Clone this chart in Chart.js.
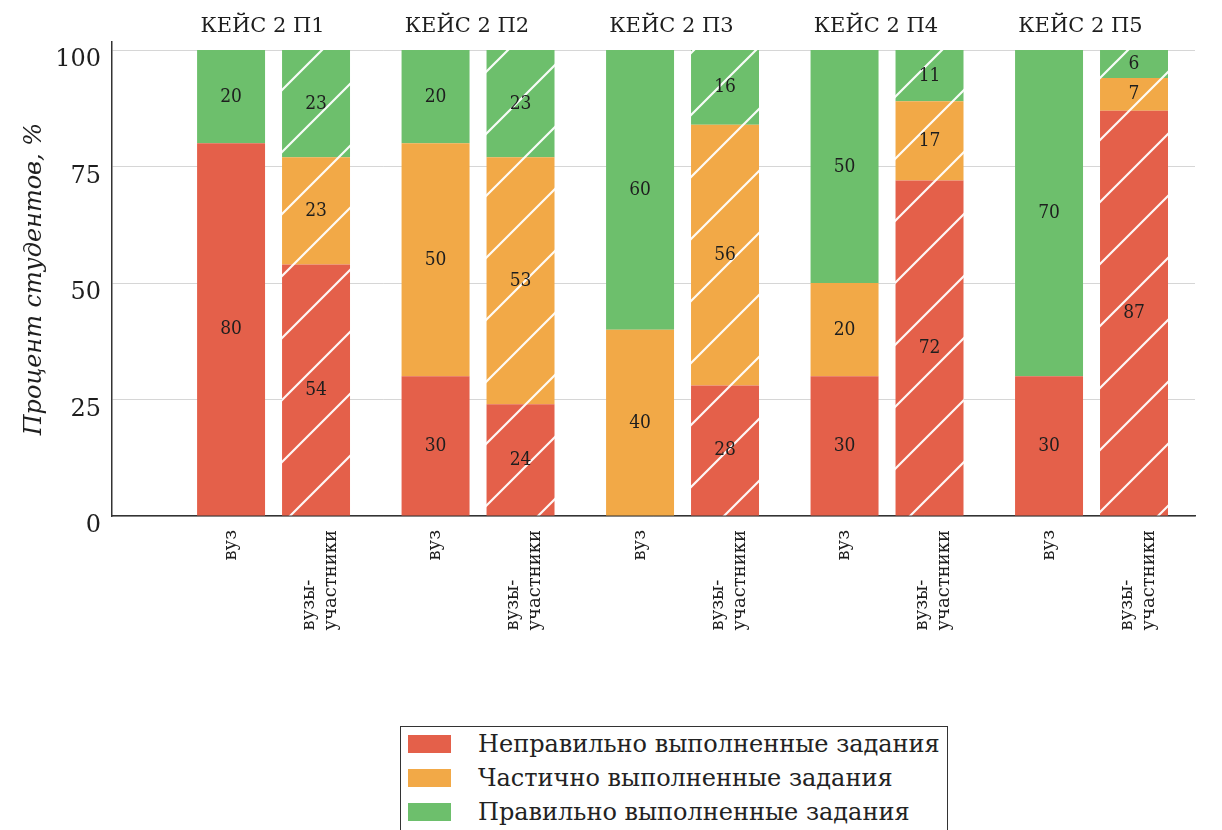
<!DOCTYPE html>
<html><head><meta charset="utf-8">
<script src="https://cdn.jsdelivr.net/npm/chart.js@4/dist/chart.umd.min.js"></script>
<style>
html,body{margin:0;padding:0;background:#fff;overflow:hidden;width:1222px;height:830px}
#wrap{position:relative;width:1222px;height:830px}
#legend{position:absolute;left:400px;top:726px;width:546px;border:1.5px solid #333;background:#fff;padding:0 0 20px 0;font-family:"DejaVu Serif";font-size:24px;color:#222}
.item{display:flex;align-items:center;height:34px}
.sw{width:43px;height:18px;margin:0 27px 0 7px;flex:none}
</style></head><body>
<div id="wrap"><canvas id="c" width="1222" height="830"></canvas><div id="legend"></div></div>
<script>
const groups = ['КЕЙС 2 П1','КЕЙС 2 П2','КЕЙС 2 П3','КЕЙС 2 П4','КЕЙС 2 П5'];
const stackNames = ['вуз','вузы-участники'];
const stackLabels = [['вуз'], ['вузы-','участники']];
const seriesNames = ['Неправильно выполненные задания','Частично выполненные задания','Правильно выполненные задания'];
const vuzWrong   = [80,30, 0,30,30];
const vuzPartial = [ 0,50,40,20, 0];
const vuzCorrect = [20,20,60,50,70];
const partWrong   = [54,24,28,72,87];
const partPartial = [23,53,56,17, 7];
const partCorrect = [23,23,16,11, 6];
const yTickStep = 25;

const colors = ['#E4604A','#F2A947','#6DBF6C'];

function hatch(color){
  const T = 62;
  const c = document.createElement('canvas');
  c.width = T; c.height = T;
  const g = c.getContext('2d');
  g.fillStyle = color; g.fillRect(0,0,T,T);
  g.strokeStyle = 'rgba(255,255,255,0.95)';
  g.lineWidth = 2.2;
  g.beginPath();
  g.moveTo(-T/2, T/2); g.lineTo(T/2, -T/2);
  g.moveTo(0, T); g.lineTo(T, 0);
  g.moveTo(T/2, T*1.5); g.lineTo(T*1.5, T/2);
  g.stroke();
  return g.createPattern(c, 'repeat');
}

const vuzSeries = [vuzWrong, vuzPartial, vuzCorrect];
const partSeries = [partWrong, partPartial, partCorrect];
const datasets = [];
vuzSeries.forEach((d,i)=>datasets.push({label:seriesNames[i], data:d, stack:stackNames[0], backgroundColor:colors[i], borderWidth:0}));
partSeries.forEach((d,i)=>datasets.push({label:seriesNames[i], data:d, stack:stackNames[1], backgroundColor:hatch(colors[i]), borderWidth:0}));

const FONT = '"DejaVu Serif", serif';
const TXT = '#1e1e1e';

function padRange(s){
  s._startValue = s.min - 0.79;
  s._valueRange = (s.max - s.min) + 1.296;
}

const valueLabels = {
  id:'valueLabels',
  afterDatasetsDraw(chart){
    const ctx = chart.ctx;
    ctx.save();
    ctx.font = '19px "DejaVu Serif Condensed", "DejaVu Serif", serif';
    ctx.fillStyle = TXT;
    ctx.textAlign = 'center';
    ctx.textBaseline = 'middle';
    chart.data.datasets.forEach((ds,di)=>{
      const meta = chart.getDatasetMeta(di);
      meta.data.forEach((el,i)=>{
        const v = ds.data[i];
        if (!v) return;
        ctx.fillText(String(v), el.x, (el.y + el.base)/2);
      });
    });
    ctx.restore();
  }
};

const barLabels = {
  id:'barLabels',
  afterDraw(chart){
    const ctx = chart.ctx;
    const xs = chart.scales.x;
    ctx.save();
    ctx.font = '18px ' + FONT;
    ctx.fillStyle = TXT;
    ctx.textBaseline = 'middle';
    ctx.textAlign = 'left';
    const lh = 22;
    stackNames.forEach((sn, si)=>{
      const di = chart.data.datasets.findIndex(d=>d.stack===sn);
      const meta = chart.getDatasetMeta(di);
      const lines = stackLabels[si];
      const L = Math.max(...lines.map(t=>ctx.measureText(t).width));
      const dx = lines.length > 1 ? 4 : 0;
      meta.data.forEach(el=>{
        ctx.save();
        ctx.translate(el.x + dx, xs.top + 14);
        ctx.rotate(-Math.PI/2);
        lines.forEach((t,li)=>{
          ctx.fillText(t, -L, (li - (lines.length-1)/2)*lh);
        });
        ctx.restore();
      });
    });
    ctx.restore();
  }
};

const chart = new Chart(document.getElementById('c'), {
  type:'bar',
  data:{labels:groups, datasets},
  options:{
    responsive:false,
    animation:false,
    layout:{padding:{top:11,right:27,bottom:314,left:0}},
    datasets:{bar:{barPercentage:0.8, categoryPercentage:0.831}},
    plugins:{legend:{display:false}, tooltip:{enabled:false}},
    scales:{
      x:{
        type:'category', stacked:true, offset:true,
        afterBuildTicks: padRange,
        grid:{display:false, drawTicks:false},
        border:{display:true, color:'#333', width:1.5},
        ticks:{display:false}
      },
      xTop:{
        type:'category', position:'top', offset:true, labels:groups,
        afterBuildTicks: padRange,
        grid:{display:false, drawTicks:false},
        border:{display:false},
        ticks:{font:{family:FONT, size:21}, color:TXT, padding:3, labelOffset:-11, autoSkip:false, maxRotation:0}
      },
      y:{
        stacked:true, min:0, max:101.7,
        afterFit(s){ s.width = 112; },
        grid:{color:'#d6d6d6', lineWidth:1, drawTicks:false},
        border:{display:true, color:'#333', width:1.5},
        ticks:{stepSize:yTickStep, includeBounds:false, font:{family:FONT, size:24}, color:TXT, padding:11, labelOffset:10},
        title:{display:true, text:'Процент студентов, %', font:{family:FONT, size:24, style:'italic'}, color:TXT, padding:{top:20, bottom:0}}
      }
    }
  },
  plugins:[valueLabels, barLabels]
});

const lg = document.getElementById('legend');
chart.data.datasets.filter(d=>d.stack===stackNames[0]).forEach(d=>{
  const it = document.createElement('div'); it.className='item';
  const sw = document.createElement('div'); sw.className='sw'; sw.style.background=d.backgroundColor;
  const tx = document.createElement('span'); tx.textContent=d.label;
  it.appendChild(sw); it.appendChild(tx); lg.appendChild(it);
});
</script>
</body></html>
